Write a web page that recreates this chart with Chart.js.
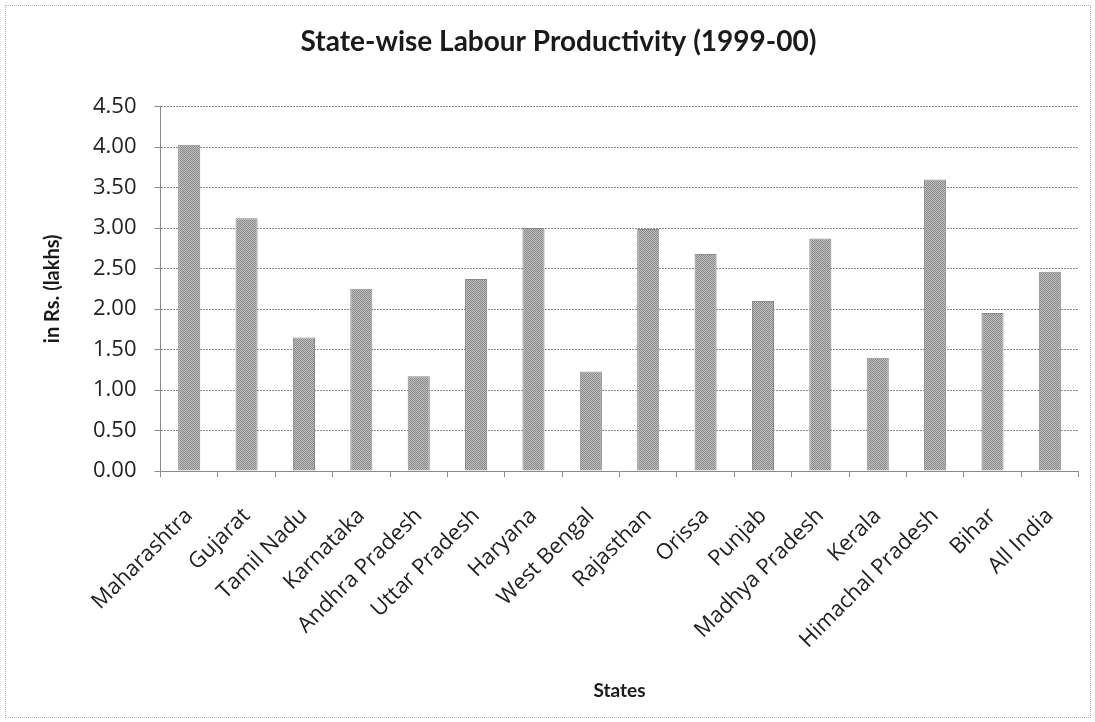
<!DOCTYPE html>
<html>
<head>
<meta charset="utf-8">
<script src="https://cdn.jsdelivr.net/npm/chart.js@4/dist/chart.umd.min.js"></script>
<style>
  html, body { margin: 0; padding: 0; background: #fff; }
  #box {
    position: absolute; left: 5px; top: 5px;
    width: 1084px; height: 711px;
    border: 1px dotted #b0b0b0;
  }
  #chartStates { position: absolute; left: 0; top: 0; }
</style>
</head>
<body>
<div id="box"></div>
<canvas id="chartStates" width="1095" height="722"></canvas>
<script>
// values (Rs. lakhs per worker)
const states = ['Maharashtra', 'Gujarat', 'Tamil Nadu', 'Karnataka', 'Andhra Pradesh',
  'Uttar Pradesh', 'Haryana', 'West Bengal', 'Rajasthan', 'Orissa', 'Punjab',
  'Madhya Pradesh', 'Kerala', 'Himachal Pradesh', 'Bihar', 'All India'];
const productivity = [4.03, 3.12, 1.65, 2.25, 1.17, 2.37, 3.00, 1.23, 2.99, 2.68, 2.10,
  2.87, 1.40, 3.60, 1.95, 2.46];
const yTicks = [0, 0.5, 1, 1.5, 2, 2.5, 3, 3.5, 4, 4.5];

const boldFont = "Lato, 'Open Sans', sans-serif";
const tickFont = "'Open Sans', 'Noto Sans', sans-serif";

// small dither pattern so the bars look like the printed grey fill
function greyPattern(c) {
  let p = document.createElement('canvas');
  p.width = 2;
  p.height = 2;
  let pc = p.getContext('2d');
  pc.fillStyle = '#c0c0c0';
  pc.fillRect(0, 0, 2, 2);
  pc.fillStyle = '#888';
  pc.fillRect(0, 0, 1, 1);
  pc.fillRect(1, 1, 1, 1);
  return c.createPattern(p, 'repeat');
}

let ctx = document.getElementById('chartStates').getContext('2d');

let chart = new Chart(ctx, {
  type: 'bar',
  data: {
    labels: states,
    datasets: [{
      label: 'Labour productivity',
      data: productivity,
      backgroundColor: greyPattern(ctx),
      borderColor: '#888',
      borderWidth: 1,
      barPercentage: 0.55,
      categoryPercentage: 0.7
    }]
  },
  options: {
    responsive: false,
    animation: false,
    layout: { padding: { left: 37, right: 15, top: 25, bottom: 16 } },
    plugins: {
      legend: { display: false },
      tooltip: { enabled: false },
      title: {
        display: true,
        text: 'State-wise Labour Productivity (1999-00)',
        color: '#1a1a1a',
        font: { family: boldFont, size: 28, weight: 'bold' },
        padding: { top: 0, bottom: 48 }
      }
    },
    scales: {
      x: {
        // the labels sit well below the axis, keep the plot bottom where the picture has it
        afterFit: (axis) => {
          axis.height = 235;
        },
        grid: {
          offset: true,
          drawOnChartArea: false,
          color: '#8a8a8a',
          tickLength: 6
        },
        border: { color: '#8a8a8a', dash: [2, 1] },
        ticks: {
          color: '#222',
          font: { family: tickFont, size: 22 },
          minRotation: 45,
          maxRotation: 45,
          padding: 26
        },
        title: {
          display: true,
          text: 'States',
          color: '#1a1a1a',
          font: { family: boldFont, size: 19, weight: 'bold' },
          padding: { top: 2, bottom: 4 }
        }
      },
      y: {
        min: 0,
        max: 4.5,
        afterBuildTicks: (axis) => {
          axis.ticks = yTicks.map((v) => ({ value: v }));
        },
        grid: {
          color: '#8a8a8a',
          tickLength: 6
        },
        border: { color: '#8a8a8a', dash: [2, 1] },
        ticks: {
          color: '#222',
          font: { family: tickFont, size: 22 },
          padding: 18,
          callback: function(value) {
            return Number(value).toFixed(2);
          }
        },
        title: {
          display: true,
          text: 'in Rs. (lakhs)',
          color: '#1a1a1a',
          font: { family: boldFont, size: 20, weight: 'bold' },
          padding: { bottom: 10 }
        }
      }
    }
  }
});
</script>
</body>
</html>
